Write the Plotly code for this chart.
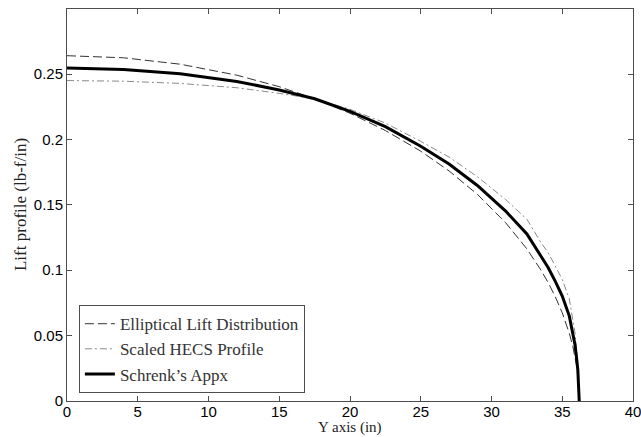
import plotly.graph_objects as go

# Spanwise stations (in)
span_y = [0, 4, 8, 12, 15, 17.5, 20, 22.5, 25, 27, 29, 31, 32.5, 33.5, 34, 34.5, 35, 35.5,
          35.75, 35.9, 36.0, 36.1, 36.2]

# Lift per unit span (lb-f/in)
elliptical = [0.264, 0.2624, 0.2575, 0.2491, 0.2403, 0.2311, 0.2200, 0.2068, 0.1910, 0.1759,
              0.1580, 0.1363, 0.1163, 0.1000, 0.0906, 0.0799, 0.0674, 0.0517,
              0.0415, 0.0339, 0.0277, 0.0196, 0.0]
hecs_scaled = [0.245, 0.2445, 0.2428, 0.2395, 0.2352, 0.2310, 0.2230, 0.2125, 0.1985, 0.1865,
               0.1715, 0.1540, 0.1390, 0.1210, 0.1135, 0.1035, 0.0930, 0.0780,
               0.0625, 0.0520, 0.0405, 0.0280, 0.0]
schrenk = [0.2545, 0.2535, 0.2502, 0.2443, 0.2378, 0.2311, 0.2215, 0.2097, 0.1948, 0.1812,
           0.1648, 0.1452, 0.1277, 0.1105, 0.1021, 0.0917, 0.0802, 0.0649,
           0.0520, 0.0430, 0.0341, 0.0238, 0.0]

y_ticks = [0, 0.05, 0.1, 0.15, 0.2, 0.25]
y_tick_text = ["0", "0.05", "0.1", "0.15", "0.2", "0.25"]
x_ticks = [0, 5, 10, 15, 20, 25, 30, 35, 40]

serif = "Liberation Serif, Times New Roman, serif"
sans = "Liberation Sans, Arial, sans-serif"

fig = go.Figure()
fig.add_trace(go.Scatter(x=span_y, y=elliptical, mode="lines",
                         name="Elliptical Lift Distribution",
                         line=dict(color="#333333", width=1, dash="9px,4px")))
fig.add_trace(go.Scatter(x=span_y, y=hecs_scaled, mode="lines",
                         name="Scaled HECS Profile",
                         line=dict(color="#8a8a8a", width=1, dash="7px,3px,2px,3px")))
fig.add_trace(go.Scatter(x=span_y, y=schrenk, mode="lines",
                         name="Schrenk\u2019s Appx",
                         line=dict(color="black", width=3)))

axis_common = dict(
    showline=True, linecolor="#4d4d4d", linewidth=1, mirror="allticks",
    ticks="inside", ticklen=5, tickcolor="#4d4d4d", tickwidth=1,
    showgrid=False, zeroline=False, automargin=False, ticklabeloverflow="allow",
    tickfont=dict(family=sans, size=15, color="black"),
)

fig.update_layout(
    width=641, height=437,
    margin=dict(l=67, r=8, t=9, b=36),
    paper_bgcolor="white", plot_bgcolor="white",
    xaxis=dict(range=[0, 40], tickvals=x_ticks, ticklabelstandoff=-3, **axis_common),
    yaxis=dict(range=[0, 0.2997], tickvals=y_ticks, ticktext=y_tick_text, **axis_common),
    legend=dict(x=0.021, y=0.02, xanchor="left", yanchor="bottom",
                bgcolor="white", bordercolor="#4d4d4d", borderwidth=1,
                font=dict(family=serif, size=17, color="#333333"),
                tracegroupgap=0, itemwidth=30),
    showlegend=True,
    annotations=[
        dict(text="Y axis (in)", xref="paper", yref="paper", x=0.5, y=-0.0665,
             xanchor="center", yanchor="middle", showarrow=False, borderpad=0,
             font=dict(family=serif, size=15, color="#222222")),
        dict(text="Lift profile (lb-f/in)", xref="paper", yref="paper", x=-0.083, y=0.5,
             xanchor="center", yanchor="middle", textangle=-90, showarrow=False,
             font=dict(family=serif, size=17, color="#222222")),
    ],
)

fig.write_html("out.html")
